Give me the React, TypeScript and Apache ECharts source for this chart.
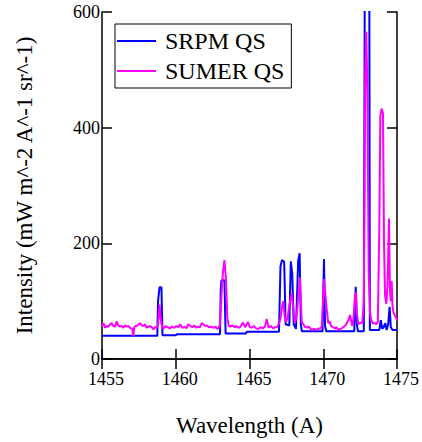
import React, { useEffect, useRef } from "react";
import * as echarts from "echarts";

const xTicks = [1455, 1460, 1465, 1470, 1475];
const yTicks = [0, 200, 400, 600];

const srpmWavelength = [
  1455.0, 1458.75, 1458.8, 1458.9, 1459.03, 1459.1, 1460.0, 1460.1, 1463.0, 1463.05,
  1463.1, 1463.3, 1463.38, 1464.75, 1464.82, 1467.0, 1467.1, 1467.2, 1467.35, 1467.45,
  1467.7, 1467.8, 1467.9, 1468.0, 1468.15, 1468.3, 1468.4, 1468.48, 1468.55, 1469.95,
  1470.05, 1470.12, 1470.2, 1472.1, 1472.2, 1472.28, 1472.35, 1472.75, 1472.82, 1473.12,
  1473.16, 1473.8, 1473.9, 1474.0, 1474.1, 1474.2, 1474.3, 1474.4, 1474.5, 1474.58,
  1474.7, 1475.0,
];
const srpmIntensity = [
  40, 40, 100, 124, 124, 41, 41, 43, 43, 120,
  136, 136, 44, 44, 47, 47, 160, 171, 168, 60,
  58, 169, 147, 60, 52, 170, 183, 60, 48, 48,
  173, 58, 48, 48, 125, 60, 48, 48, 700, 700,
  50, 50, 67, 52, 55, 62, 50, 60, 90, 55,
  50, 50,
];

const sumerWavelength = [
  1455.0, 1455.1, 1455.2, 1455.3, 1455.43, 1455.55, 1455.66, 1455.77, 1455.88, 1456.0,
  1456.1, 1456.22, 1456.35, 1456.45, 1456.55, 1456.67, 1456.8, 1456.9, 1457.05, 1457.12,
  1457.2, 1457.3, 1457.46, 1457.58, 1457.7, 1457.8, 1457.92, 1458.03, 1458.15, 1458.25,
  1458.38, 1458.48, 1458.6, 1458.7, 1458.8, 1458.9, 1458.98, 1459.05, 1459.15, 1459.3,
  1459.45, 1459.6, 1459.75, 1459.9, 1460.05, 1460.2, 1460.3, 1460.45, 1460.6, 1460.72,
  1460.85, 1461.0, 1461.12, 1461.25, 1461.4, 1461.5, 1461.65, 1461.76, 1461.87, 1462.0,
  1462.12, 1462.25, 1462.4, 1462.55, 1462.7, 1462.8, 1462.9, 1463.0, 1463.1, 1463.2,
  1463.3, 1463.4, 1463.5, 1463.6, 1463.7, 1463.85, 1464.0, 1464.1, 1464.25, 1464.4,
  1464.56, 1464.7, 1464.9, 1465.0, 1465.15, 1465.3, 1465.45, 1465.6, 1465.75, 1465.9,
  1466.05, 1466.17, 1466.3, 1466.45, 1466.6, 1466.75, 1466.9, 1467.0, 1467.1, 1467.18,
  1467.29, 1467.38, 1467.47, 1467.58, 1467.7, 1467.86, 1467.96, 1468.08, 1468.16, 1468.24,
  1468.34, 1468.42, 1468.5, 1468.54, 1468.65, 1468.76, 1468.88, 1468.99, 1469.1, 1469.22,
  1469.35, 1469.45, 1469.56, 1469.67, 1469.78, 1469.9, 1470.05, 1470.15, 1470.23, 1470.34,
  1470.45, 1470.53, 1470.65, 1470.8, 1470.9, 1471.02, 1471.15, 1471.25, 1471.35, 1471.47,
  1471.6, 1471.7, 1471.81, 1471.9, 1471.97, 1472.05, 1472.15, 1472.22, 1472.27, 1472.38,
  1472.47, 1472.56, 1472.65, 1472.75, 1472.85, 1472.92, 1473.0, 1473.08, 1473.17, 1473.25,
  1473.35, 1473.5, 1473.6, 1473.7, 1473.8, 1473.87, 1473.96, 1474.05, 1474.12, 1474.19,
  1474.28, 1474.36, 1474.46, 1474.52, 1474.58, 1474.64, 1474.7, 1474.76, 1474.85, 1474.92,
  1475.0,
];
const sumerIntensity = [
  56, 62, 54, 57, 56, 60, 62, 57, 56, 65,
  58, 56, 57, 54, 58, 56, 57, 54, 52, 40,
  56, 57, 59, 62, 58, 57, 60, 54, 56, 57,
  55, 51, 55, 54, 60, 94, 70, 58, 52, 57,
  55, 53, 56, 54, 57, 55, 60, 54, 56, 53,
  60, 57, 55, 58, 54, 56, 55, 62, 60, 57,
  58, 55, 56, 54, 56, 52, 54, 60, 110, 150,
  171, 140, 70, 57, 56, 58, 55, 57, 54, 56,
  63, 55, 64, 56, 54, 57, 53, 52, 55, 53,
  56, 69, 54, 57, 53, 55, 56, 62, 70, 87,
  100, 75, 64, 70, 93, 113, 90, 62, 70, 87,
  120, 141, 90, 64, 60, 56, 54, 56, 54, 50,
  52, 51, 50, 53, 52, 57, 138, 110, 87, 62,
  65, 57, 55, 53, 55, 50, 52, 53, 55, 57,
  62, 67, 76, 65, 57, 70, 110, 115, 81, 60,
  62, 63, 62, 100, 500, 566, 450, 150, 80, 67,
  62, 62, 60, 64, 223, 420, 433, 425, 200, 110,
  95, 130, 243, 120, 100, 135, 90, 81, 75, 73,
  67,
];

const FONT = "Liberation Serif";

export default function App() {
  const ref = useRef<HTMLDivElement>(null);
  useEffect(() => {
    if (!ref.current) return;
    const chart = echarts.init(ref.current, undefined, { renderer: "svg" });
    const srpm = srpmWavelength.map((w, i) => [w, srpmIntensity[i]]);
    const sumer = sumerWavelength.map((w, i) => [w, sumerIntensity[i]]);
    const axisLine = { show: true, lineStyle: { color: "#000", width: 1.5 } };
    const tick = { show: true, inside: true, length: 10, lineStyle: { color: "#000", width: 1.5 } };
    chart.setOption({
      animation: false,
      backgroundColor: "#fff",
      textStyle: { fontFamily: FONT, color: "#000" },
      grid: { left: 102, right: 25, top: 12, bottom: 77.5, containLabel: false },
      legend: {
        left: 115,
        top: 24,
        orient: "vertical",
        backgroundColor: "#fff",
        borderColor: "#000",
        borderWidth: 1,
        borderRadius: 0,
        padding: [5, 7, 5, 2],
        itemGap: 6,
        itemWidth: 39,
        itemHeight: 2,
        icon: "rect",
        textStyle: { fontFamily: FONT, fontSize: 24, color: "#000", padding: [0, 0, 0, 4] },
        data: ["SRPM QS", "SUMER QS"],
      },
      xAxis: [
        {
          type: "value",
          min: xTicks[0],
          max: xTicks[xTicks.length - 1],
          interval: xTicks[1] - xTicks[0],
          position: "bottom",
          name: "Wavelength (A)",
          nameLocation: "middle",
          nameGap: 55,
          nameTextStyle: { fontFamily: FONT, fontSize: 23, color: "#000" },
          axisLine,
          axisTick: tick,
          splitLine: { show: false },
          axisLabel: {
            fontFamily: FONT,
            fontSize: 18,
            color: "#000",
            margin: 11,
            padding: [0, 0, 0, 8],
            formatter: (v: number) => String(v),
          },
        },
        {
          type: "value",
          min: xTicks[0],
          max: xTicks[xTicks.length - 1],
          interval: xTicks[1] - xTicks[0],
          position: "top",
          axisLine,
          axisTick: tick,
          splitLine: { show: false },
          axisLabel: { show: false },
        },
      ],
      yAxis: [
        {
          type: "value",
          min: yTicks[0],
          max: yTicks[yTicks.length - 1],
          interval: yTicks[1] - yTicks[0],
          position: "left",
          name: "Intensity (mW m^-2 A^-1 sr^-1)",
          nameLocation: "middle",
          nameGap: 66,
          nameTextStyle: { fontFamily: FONT, fontSize: 23, color: "#000" },
          axisLine,
          axisTick: tick,
          splitLine: { show: false },
          axisLabel: { fontFamily: FONT, fontSize: 18, color: "#000", margin: 2 },
        },
        {
          type: "value",
          min: yTicks[0],
          max: yTicks[yTicks.length - 1],
          interval: yTicks[1] - yTicks[0],
          position: "right",
          axisLine,
          axisTick: tick,
          splitLine: { show: false },
          axisLabel: { show: false },
        },
      ],
      series: [
        {
          name: "SRPM QS",
          type: "line",
          data: srpm,
          showSymbol: false,
          clip: true,
          color: "#0000ff",
          lineStyle: { color: "#0000ff", width: 2 },
        },
        {
          name: "SUMER QS",
          type: "line",
          data: sumer,
          showSymbol: false,
          clip: true,
          color: "#ff00ff",
          lineStyle: { color: "#ff00ff", width: 2 },
        },
      ],
    });
    return () => chart.dispose();
  }, []);
  return (
    <div
      ref={ref}
      style={{ position: "fixed", left: 0, top: 0, width: 422, height: 442 }}
    />
  );
}
